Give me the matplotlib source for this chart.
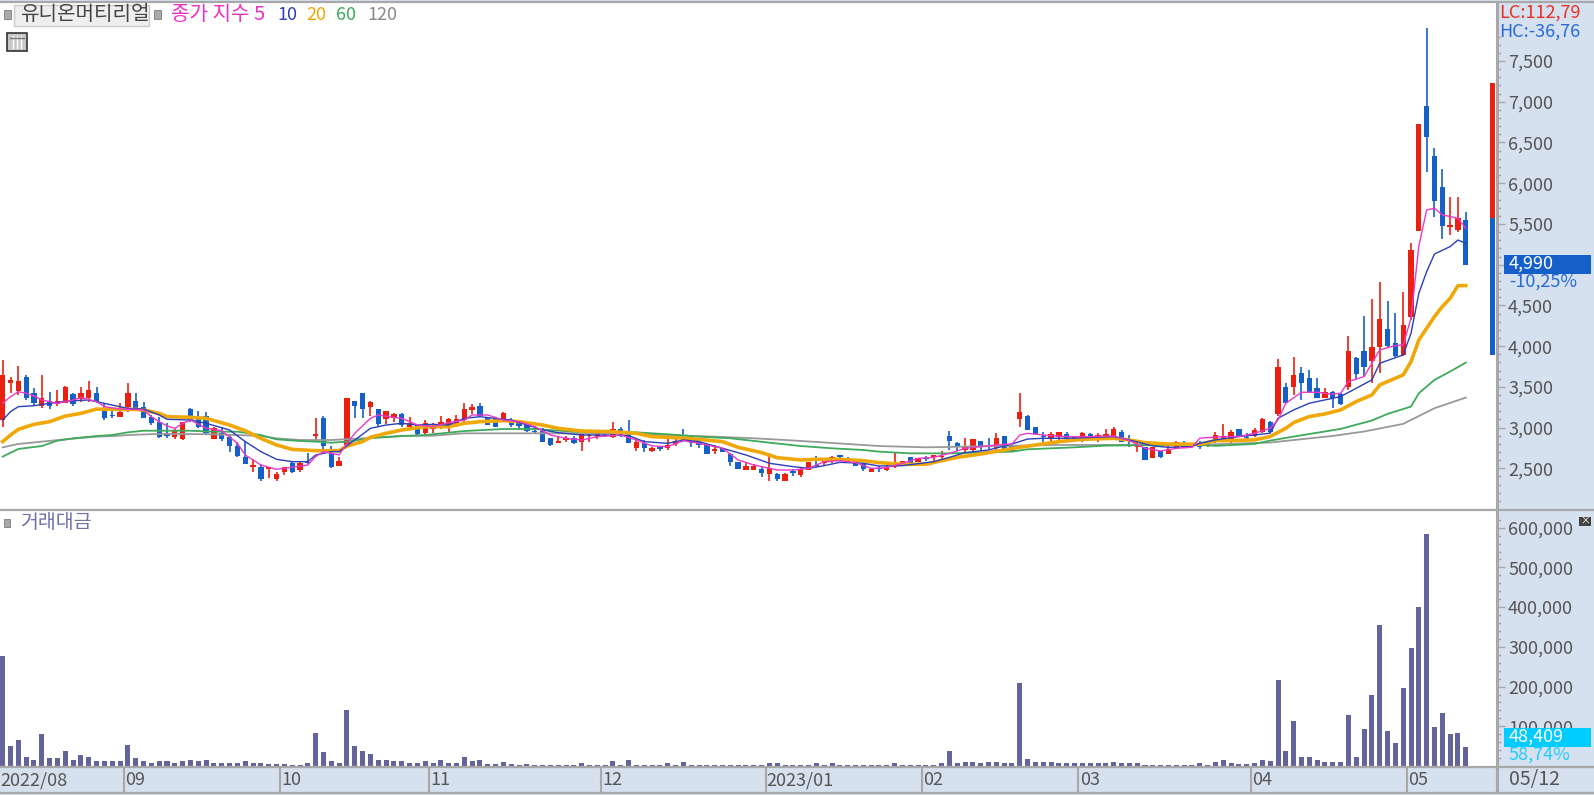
import matplotlib
matplotlib.use("Agg")
import matplotlib.pyplot as plt
from matplotlib.patches import Rectangle
from matplotlib.lines import Line2D

plt.rcParams['font.family'] = ['Noto Sans CJK KR', 'DejaVu Sans']

W, H = 1594, 795

# candles, oldest first
opens = [3093,3543,3449,3617,3429,3265,3327,3290,3306,3408,
    3347,3367,3429,3208,3151,3134,3257,3327,3257,3134,
    3065,2930,2889,2856,3224,3126,3147,2860,2930,2889,
    2778,2635,2513,2513,2498,2365,2451,2570,2480,2574,
    2901,3114,2685,2533,2787,3331,3421,3257,3224,3102,
    3114,3167,3012,3032,2930,2979,3032,2991,3044,3093,
    3216,3265,3126,3106,3065,3093,3085,3040,2954,2959,
    2869,2807,2848,2877,2828,2893,2889,2914,2889,2979,
    2959,2754,2815,2713,2766,2750,2795,2860,2840,2828,
    2799,2709,2746,2672,2582,2480,2480,2488,2431,2427,
    2349,2468,2419,2480,2541,2570,2594,2664,2623,2594,
    2550,2460,2500,2480,2513,2533,2635,2574,2631,2644,
    2635,2897,2807,2725,2725,2840,2778,2746,2897,2774,
    3102,3147,3003,2901,2860,2889,2922,2889,2869,2918,
    2869,2869,2901,2950,2791,2758,2766,2623,2713,2676,
    2746,2799,2799,2815,2776,2829,2841,2829,2988,2890,
    2898,2952,3074,3164,3504,3504,3667,3614,3483,3361,
    3442,3414,3496,3851,3945,3819,3986,4207,4035,3892,
    4354,5419,6948,6339,5950,5468,5427,5550]
closes = [3645,3580,3576,3359,3298,3359,3269,3327,3502,3290,
    3429,3461,3310,3122,3138,3187,3429,3236,3118,3061,
    2889,2901,2962,3073,3093,3012,2930,2991,2856,2774,
    2652,2553,2541,2365,2501,2431,2513,2451,2562,2562,
    2922,2774,2521,2594,3367,3269,3224,3318,3040,3204,
    3167,3032,3061,2922,3061,3040,3073,3102,3106,3224,
    3249,3147,3032,3012,3175,3032,3020,2959,2942,2828,
    2787,2840,2869,2807,2918,2901,2918,2901,2979,2901,
    2807,2828,2746,2754,2734,2783,2840,2848,2815,2787,
    2676,2734,2697,2582,2492,2529,2529,2439,2500,2365,
    2431,2439,2488,2574,2529,2603,2635,2635,2582,2529,
    2492,2492,2488,2521,2574,2594,2554,2627,2615,2652,
    2652,2840,2758,2758,2856,2758,2766,2877,2725,2705,
    3188,2971,2922,2889,2922,2942,2869,2860,2930,2869,
    2909,2918,2983,2828,2783,2774,2603,2758,2635,2738,
    2820,2758,2787,2758,2837,2911,2890,2952,2890,2870,
    2972,3103,2952,3741,3307,3647,3545,3442,3361,3434,
    3361,3291,3945,3659,3749,3986,4334,4007,3880,4260,
    5181,6727,6564,5787,5476,5488,5570,4990]
highs = [3830,3625,3756,3645,3482,3645,3441,3461,3515,3429,
    3502,3576,3502,3298,3236,3298,3543,3429,3318,3155,
    3134,3053,2979,3073,3245,3204,3196,3003,3003,2909,
    2827,2836,2611,2553,2501,2451,2521,2582,2574,2685,
    3114,3143,2774,2644,3367,3331,3429,3327,3224,3204,
    3183,3183,3126,3032,3093,3061,3143,3114,3155,3298,
    3286,3298,3126,3106,3196,3114,3085,3040,3020,2991,
    2869,2889,2897,2897,2930,2918,2963,2930,3073,3003,
    3093,2856,2848,2766,2775,2868,2856,2979,2860,2856,
    2799,2783,2746,2685,2582,2562,2550,2521,2685,2439,
    2439,2492,2500,2582,2652,2623,2652,2664,2635,2594,
    2550,2500,2529,2541,2693,2594,2635,2627,2656,2652,
    2713,2958,2828,2877,2856,2840,2877,2930,2897,2774,
    3429,3155,3003,2950,2942,2950,2950,2889,2950,2938,
    2930,2979,3003,2971,2909,2840,2766,2766,2713,2775,
    2840,2840,2815,2832,2837,2952,3042,2972,2988,2931,
    2992,3115,3087,3839,3545,3872,3741,3708,3614,3483,
    3450,3422,4130,3872,4371,4575,4792,4555,4404,4661,
    5262,6727,7901,6429,6171,5836,5836,5644]
lows = [3012,3420,3400,3339,3269,3245,3228,3269,3298,3265,
    3310,3318,3298,3093,3122,3134,3196,3216,3118,3032,
    2868,2877,2860,2848,3073,3000,2917,2860,2840,2697,
    2635,2553,2451,2345,2378,2349,2419,2439,2451,2554,
    2827,2705,2509,2529,2774,3122,3114,3143,3020,3044,
    3065,3012,3004,2909,2897,2930,2983,2930,3003,3044,
    3163,3134,3032,3004,3065,3004,2979,2950,2930,2820,
    2779,2807,2820,2799,2713,2820,2860,2889,2869,2889,
    2807,2713,2697,2697,2713,2725,2775,2828,2766,2746,
    2676,2676,2697,2529,2492,2480,2480,2398,2349,2349,
    2349,2410,2398,2480,2521,2541,2562,2603,2570,2529,
    2472,2460,2460,2472,2509,2533,2541,2574,2594,2594,
    2615,2725,2717,2684,2713,2713,2734,2725,2705,2705,
    3003,2971,2922,2828,2828,2820,2848,2848,2828,2856,
    2828,2848,2889,2820,2766,2697,2603,2623,2625,2676,
    2734,2746,2766,2740,2759,2808,2829,2817,2890,2841,
    2882,2939,2931,3144,3299,3401,3340,3422,3361,3361,
    3246,3279,3463,3594,3635,3545,3667,3994,3864,3880,
    4322,5419,6134,5582,5312,5366,5406,4990]
volumes = [277000,50000,65000,23500,16000,80000,19000,19000,39000,16000,
    27000,23500,12000,12000,12000,12000,54000,19000,12000,8500,
    12000,12000,8500,12000,16000,12000,16000,8500,8500,8500,
    8500,12000,8500,8500,4000,4000,4000,3500,3500,8000,
    84000,34000,12000,8500,140000,50000,39000,31000,16000,16000,
    12000,12000,8500,8500,12000,8500,16000,8500,8500,23500,
    12000,16000,6000,6000,11000,6000,3500,6000,3000,3000,
    3000,3000,3000,3000,6500,3000,3000,3000,12000,3500,
    15000,3500,3500,3000,3000,6500,3000,11000,3000,3000,
    3000,3000,3000,3000,3000,3000,3000,3000,6500,6500,
    3000,3000,3000,3000,6500,3000,6500,3000,3000,3000,
    3000,3000,3000,3000,6500,3000,3000,3000,3000,3000,
    6500,38000,6500,10000,10000,7500,10000,10000,6500,6500,
    209000,18500,11000,11000,11000,7500,6500,6500,6500,6500,
    6500,7500,11000,6500,6500,6500,3000,3000,3000,3000,
    3000,3000,3000,8000,3500,11000,15000,8000,4000,4000,
    8000,15000,12000,216000,38000,113000,23000,23000,15000,11000,
    11000,11000,128000,23000,92000,178000,355000,87000,57000,197000,
    298000,400000,583000,99000,133000,80000,84000,48409]

ma5_at = [0,1,2,3,4,5,7,9,10,12,13,15,17,18,19,20,21,22,23,24,26,28,30,31,33,35,37,39,40,41,43,44,45,47,48,50,
    51,53,55,57,59,60,62,64,66,68,70,72,74,76,79,81,83,85,87,89,92,94,96,99,101,
    103,105,107,109,111,113,115,117,119,121,123,125,127,129,130,131,133,136,139,142,144,146,148,150,152,
    153,156,158,160,162,163,164,166,168,170,171,172,174,176,178,179,180,181,182,183,184,186,187]
ma5 = [3298,3380,3441,3421,3388,3339,3298,3339,3371,3318,3257,3228,3224,3216,3134,3073,3020,2991,3053,3093,2991,2962,2807,2664,2541,2488,2513,2541,2644,2705,2664,2807,2930,3114,3155,3126,
    3114,3032,3012,3061,3093,3155,3155,3093,3073,3012,2909,2869,2848,2889,2909,2848,2775,2766,2840,2807,2746,2603,2541,2480,2480,
    2500,2582,2594,2570,2500,2509,2562,2623,2635,2684,2746,2766,2787,2799,2909,2930,2909,2889,2889,2897,2840,2746,2713,2746,2758,
    2870,2890,2890,2931,2992,3095,3299,3434,3434,3410,3422,3565,3626,3954,4007,4015,4342,5230,5672,5693,5611,5570,5447]

ma10_at = [0,1,2,4,6,9,11,12,14,16,18,20,21,24,26,29,31,33,35,37,39,40,42,43,45,47,49,
    51,53,55,57,59,61,64,65,68,69,71,74,77,80,82,85,87,89,92,95,98,101,
    103,105,107,110,112,115,119,121,123,126,129,131,133,136,142,144,147,149,152,
    153,155,158,162,163,165,167,169,171,173,175,176,179,180,181,182,183,185,186,187]
ma10 = [3093,3196,3257,3269,3298,3331,3339,3318,3277,3236,3228,3155,3102,3093,3053,2971,2828,2705,2611,2582,2582,2664,2705,2705,2848,2991,3032,
    3053,3032,3040,3032,3114,3134,3102,3093,3003,2971,2938,2909,2909,2901,2828,2807,2848,2828,2746,2664,2562,2521,
    2500,2533,2574,2562,2529,2533,2582,2635,2693,2725,2799,2860,2869,2869,2889,2848,2775,2758,2766,
    2808,2849,2890,2931,3115,3217,3299,3340,3381,3483,3586,3790,3892,4158,4649,4915,5131,5222,5303,5262]

ma20_at = [0,1,2,4,6,8,10,12,14,17,18,20,21,24,26,29,31,33,35,37,40,43,44,46,47,49,
    51,54,57,59,61,64,66,69,71,74,78,81,83,86,89,92,94,97,99,
    102,104,107,110,112,115,118,120,122,125,128,130,132,135,138,142,144,146,149,153,
    155,157,160,162,164,165,167,169,171,173,175,176,179,180,181,183,184,185,186,187]
ma20 = [2828,2909,2979,3040,3073,3142,3175,3228,3224,3224,3216,3175,3134,3126,3114,3032,2962,2868,2787,2733,2717,2717,2774,2828,2881,2930,
    2971,3012,3012,3053,3073,3085,3073,3032,2991,2958,2950,2930,2889,2877,2856,2828,2758,2693,2631,
    2603,2611,2611,2594,2570,2550,2550,2594,2635,2676,2725,2758,2787,2828,2856,2869,2848,2815,2799,2795,
    2841,2841,2849,2890,2992,3062,3136,3168,3217,3320,3401,3524,3647,3810,4076,4363,4485,4587,4743,4743]

ma60_at = [0,2,5,7,9,12,14,16,18,21,24,27,30,33,35,38,40,42,44,46,48,
    51,54,59,64,68,73,76,81,85,89,93,98,
    102,106,110,112,116,121,129,131,137,141,149,153,
    155,160,162,165,171,175,177,180,181,183,185,187]
ma60 = [2644,2738,2774,2840,2868,2897,2909,2942,2962,2962,2962,2950,2950,2909,2856,2836,2828,2815,2828,2856,2881,
    2897,2909,2958,2983,2983,2950,2950,2942,2918,2889,2869,2815,
    2774,2746,2725,2705,2684,2684,2705,2734,2758,2779,2787,2787,
    2776,2800,2841,2890,2984,3087,3168,3258,3422,3586,3688,3798]

ma120_at = [0,2,5,8,12,14,17,20,23,27,30,33,35,38,42,46,49,
    51,55,59,68,73,78,85,91,96,100,
    102,108,112,118,135,141,149,153,
    155,162,170,174,179,183,187]
ma120 = [2758,2799,2828,2856,2889,2897,2913,2922,2922,2918,2909,2897,2868,2848,2848,2868,2881,
    2897,2901,2930,2930,2930,2930,2909,2889,2869,2848,
    2836,2799,2774,2758,2787,2787,2787,2787,
    2796,2817,2898,2952,3046,3238,3369]

# bar at the far right of the price panel
range_top = 7226
range_split = 5570
range_bottom = 3892

price_ticks = [2500, 3000, 3500, 4000, 4500, 5000, 5500, 6000, 6500, 7000, 7500]
price_labels = ['2,500', '3,000', '3,500', '4,000', '4,500', '', '5,500', '6,000', '6,500', '7,000', '7,500']
vol_ticks = [100000, 200000, 300000, 400000, 500000, 600000]
vol_labels = ['100,000', '200,000', '300,000', '400,000', '500,000', '600,000']

month_pos = [15.5, 35.5, 54.5, 76.5, 97.5, 117.5, 137.5, 159.5, 179.5]
month_labels = ['09', '10', '11', '12', '2023/01', '02', '03', '04', '05']

RED = '#EA2010'
BLUE = '#1560C8'
BG = '#D6E1EF'
GREY = '#A8A8A8'
TXT = '#555555'


def box(x0, y0, x1, y1):
    # pixel box -> figure fractions
    return [x0 / W, 1 - y1 / H, (x1 - x0) / W, (y1 - y0) / H]


def fig_rect(fig, x0, y0, x1, y1, **kw):
    r = Rectangle((x0 / W, 1 - y1 / H), (x1 - x0) / W, (y1 - y0) / H, transform=fig.transFigure, **kw)
    fig.add_artist(r)


def fig_text(fig, x, y, s, **kw):
    fig.text(x / W, 1 - y / H, s, va='center', **kw)


fig = plt.figure(figsize=(W / 100, H / 100), dpi=100, facecolor=BG)
ax = fig.add_axes(box(0, 3, 1497, 509))
ax_vol = fig.add_axes(box(0, 511, 1497, 766))
ax_date = fig.add_axes(box(0, 768, 1497, 792))

xlim = (-0.345, 190.99)
for a in (ax, ax_vol, ax_date):
    a.set_xlim(xlim)
    a.set_xticks([])
    for s in ('top', 'left', 'bottom'):
        a.spines[s].set_visible(False)
    a.spines['right'].set_color(GREY)
    a.spines['right'].set_linewidth(2.2)

ax.set_ylim(2001, 8212)
ax_vol.set_ylim(0, 642000)
ax_date.set_ylim(0, 1)
ax_date.set_yticks([])
ax_date.set_facecolor(BG)

# candles
x = list(range(len(closes)))
up = [c >= o for o, c in zip(opens, closes)]
colors = [RED if u else BLUE for u in up]
ax.vlines(x, lows, highs, colors=colors, linewidth=1.2, zorder=2)
bottoms = [min(o, c) for o, c in zip(opens, closes)]
heights = [max(abs(c - o), 14) for o, c in zip(opens, closes)]
ax.bar(x, heights, bottom=bottoms, width=0.68, color=colors, linewidth=0, zorder=3)

# moving averages
ax.plot(ma120_at, ma120, color='#999999', linewidth=1.3, zorder=4)
ax.plot(ma60_at, ma60, color='#3DAA5C', linewidth=1.3, zorder=4)
ax.plot(ma20_at, ma20, color='#F0A808', linewidth=2.6, zorder=5)
ax.plot(ma10_at, ma10, color='#2A3FB8', linewidth=1.0, zorder=6)
ax.plot(ma5_at, ma5, color='#EE38C8', linewidth=1.0, zorder=7)

# right hand bar
ax.bar(190.4, range_top - range_split, bottom=range_split, width=0.64, color=RED, linewidth=0)
ax.bar(190.4, range_split - range_bottom, bottom=range_bottom, width=0.64, color=BLUE, linewidth=0)

# volume
ax_vol.bar(x, volumes, width=0.64, color='#64649C', linewidth=0)

# right axes
for a, ticks, labels in ((ax, price_ticks, price_labels), (ax_vol, vol_ticks, vol_labels)):
    a.yaxis.tick_right()
    a.set_yticks(ticks)
    a.set_yticklabels(labels, fontsize=13, color=TXT)
    a.tick_params(axis='y', which='major', length=6, width=1, color=GREY, pad=2)
    a.tick_params(axis='y', which='minor', length=3, width=1, color=GREY)
ax.set_yticks([v for v in range(2100, 7900, 100) if v % 500], minor=True)
ax_vol.set_yticks([v for v in range(20000, 640000, 20000) if v % 100000], minor=True)

# date strip
ax_date.vlines(month_pos + [xlim[1]], 0, 1, color=GREY, linewidth=1.5)
ax_date.text(0.0, 0.48, '2022/08', fontsize=13, color=TXT, va='center', ha='left', transform=ax_date.transAxes)
for p, s in zip(month_pos, month_labels):
    ax_date.text(p + 0.15, 0.48, s, fontsize=13, color=TXT, va='center', ha='left')
fig_text(fig, 1509, 779, '05/12', fontsize=14, color=TXT)

# separators
for y in (1.5, 510, 767, 793):
    fig.add_artist(Line2D([0, 1], [1 - y / H, 1 - y / H], color=GREY, linewidth=1.6, transform=fig.transFigure))

# header
fig_rect(fig, 4, 10, 11, 19, facecolor='#A8A8A8', edgecolor='#888888', linewidth=0.7)
fig_rect(fig, 14, 5, 149, 26, facecolor='#EEEEEE', edgecolor='#CCCCCC', linewidth=1)
fig_text(fig, 20, 15, '유니온머티리얼', fontsize=14.5, color='#444444')
fig_rect(fig, 154, 10, 161, 19, facecolor='#A8A8A8', edgecolor='#888888', linewidth=0.7)
fig_text(fig, 171, 15, '종가 지수 5', fontsize=14.5, color='#EE30C0')
fig_text(fig, 277, 15, '10', fontsize=13, color='#2A3FB8')
fig_text(fig, 306, 15, '20', fontsize=13, color='#F0A808')
fig_text(fig, 336, 15, '60', fontsize=13, color='#3DAA5C')
fig_text(fig, 367, 15, '120', fontsize=13, color='#888888')

# table icon
fig_rect(fig, 7, 33, 27, 51, facecolor='#C8C8C8', edgecolor='#333333', linewidth=1.2)
for gx in (13, 17, 21):
    fig.add_artist(Line2D([gx / W, gx / W], [1 - 36 / H, 1 - 48 / H], color='#FFFFFF', linewidth=1, transform=fig.transFigure))
fig.add_artist(Line2D([10 / W, 24 / W], [1 - 38 / H, 1 - 38 / H], color='#777777', linewidth=1, transform=fig.transFigure))

# volume title
fig_rect(fig, 4, 519, 10, 527, facecolor='#A8A8A8', edgecolor='#888888', linewidth=0.7)
fig_text(fig, 20, 523, '거래대금', fontsize=14, color='#7070A8')

# right side labels
fig_text(fig, 1499, 13, 'LC:112,79', fontsize=13, color='#E83020')
fig_text(fig, 1499, 32, 'HC:-36,76', fontsize=13, color='#2A6AD8')
fig_rect(fig, 1504, 255, 1591, 274, facecolor=BLUE, edgecolor='none', zorder=5)
fig_text(fig, 1509, 264, '4,990', fontsize=13, color='white', zorder=6)
fig_text(fig, 1509, 282, '-10,25%', fontsize=13, color='#2A6AD8', zorder=6)
fig_rect(fig, 1504, 728, 1591, 747, facecolor='#00CCFF', edgecolor='none', zorder=5)
fig_text(fig, 1509, 737, '48,409', fontsize=13, color='white', zorder=6)
fig_text(fig, 1509, 755, '58,74%', fontsize=13, color='#22CCFF', zorder=6)
fig_rect(fig, 1579, 517, 1591, 526, facecolor='#444444', edgecolor='none', zorder=5)
fig_text(fig, 1585, 521, '×', fontsize=7, color='white', ha='center', zorder=6)

fig.savefig('out.png', dpi=100, facecolor=BG)
